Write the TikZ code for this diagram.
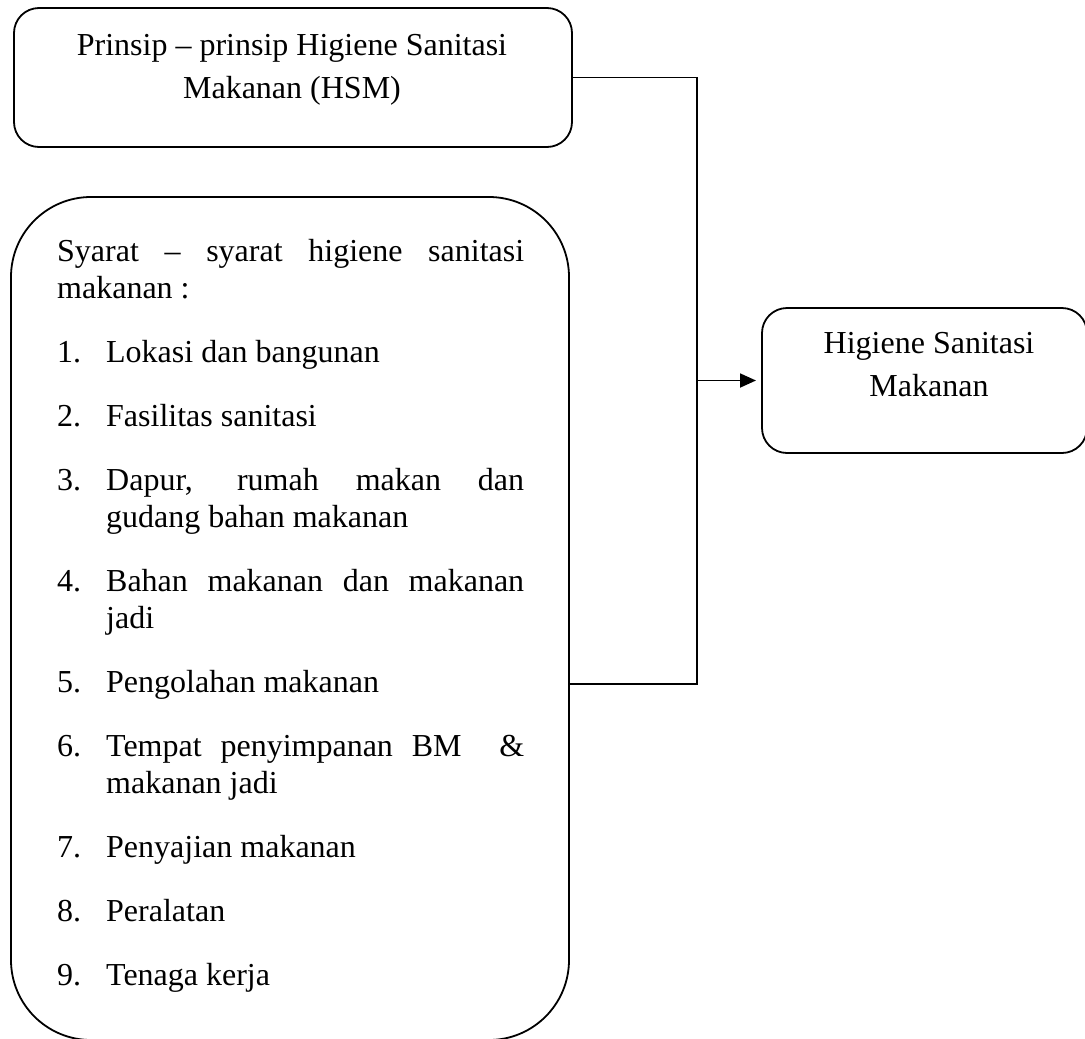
\documentclass[tikz,border=0pt]{standalone}
\usepackage{fontspec}
\setmainfont{Liberation Serif}
\usetikzlibrary{arrows.meta}
\newcommand\ctwo[2]{\vtop{\baselineskip=43pt\halign{\hfil##\hfil\cr#1\cr#2\cr}}}
\newcommand\hsmitem[2]{\hangindent=49pt\hangafter=1\noindent\hbox to 49pt{#1\hfil}#2\par}
\begin{document}
\begin{tikzpicture}[x=1pt,y=1pt,
  box/.style={draw=black, line width=1.8pt, inner sep=0pt, outer sep=0pt},
  txt/.style={inner sep=0pt, font=\fontsize{32}{37}\selectfont},
  conn/.style={draw=black, line width=1.8pt}]
\useasboundingbox (0,0) rectangle (1085,-1039);
\clip (0,0) rectangle (1085,-1039);
\fill[white] (0,0) rectangle (1085,-1039);

% boxes
\node[box, rounded corners=25pt, minimum width=558pt, minimum height=139pt] (top) at (293,-77.5) {};
\node[box, rounded corners=80pt, minimum width=558pt, minimum height=843pt] (big) at (290,-618.5) {};
\node[box, rounded corners=25pt, minimum width=325pt, minimum height=145pt] (hsm) at (924.5,-380.5) {};

% texts
\node[txt, anchor=base] (toptext) at (292,-55) {\ctwo{Prinsip – prinsip Higiene Sanitasi}{Makanan (HSM)}};
\node[txt, anchor=base] (hsmtext) at (929,-353) {\ctwo{Higiene Sanitasi}{Makanan}};
\node[txt, anchor=base west] (list) at (57,-261) {\vtop{\hsize=467pt \parindent=0pt \parskip=27pt
  \baselineskip=37pt \tolerance=10000 \hbadness=10000 \hyphenpenalty=10000 \exhyphenpenalty=10000
  \rightskip=0pt\relax
  Syarat – syarat higiene sanitasi\linebreak makanan :\par
  \hsmitem{1.}{Lokasi dan bangunan}
  \hsmitem{2.}{Fasilitas sanitasi}
  \hsmitem{3.}{Dapur, rumah makan dan\linebreak gudang bahan makanan}
  \hsmitem{4.}{Bahan makanan dan makanan\linebreak jadi}
  \hsmitem{5.}{Pengolahan makanan}
  \hsmitem{6.}{Tempat penyimpanan BM~~\&\linebreak makanan jadi}
  \hsmitem{7.}{Penyajian makanan}
  \hsmitem{8.}{Peralatan}
  \hsmitem{9.}{Tenaga kerja}}};

% connectors
\coordinate (jb) at (697,-684);
\coordinate (bus) at (697,-380.5);
\draw[conn] (top.east) -| (jb) -- (big.east |- jb);
\draw[conn, -{Triangle[length=16pt,width=14pt]}, shorten >=6pt] (bus) -- (hsm.west);
\end{tikzpicture}
\end{document}
